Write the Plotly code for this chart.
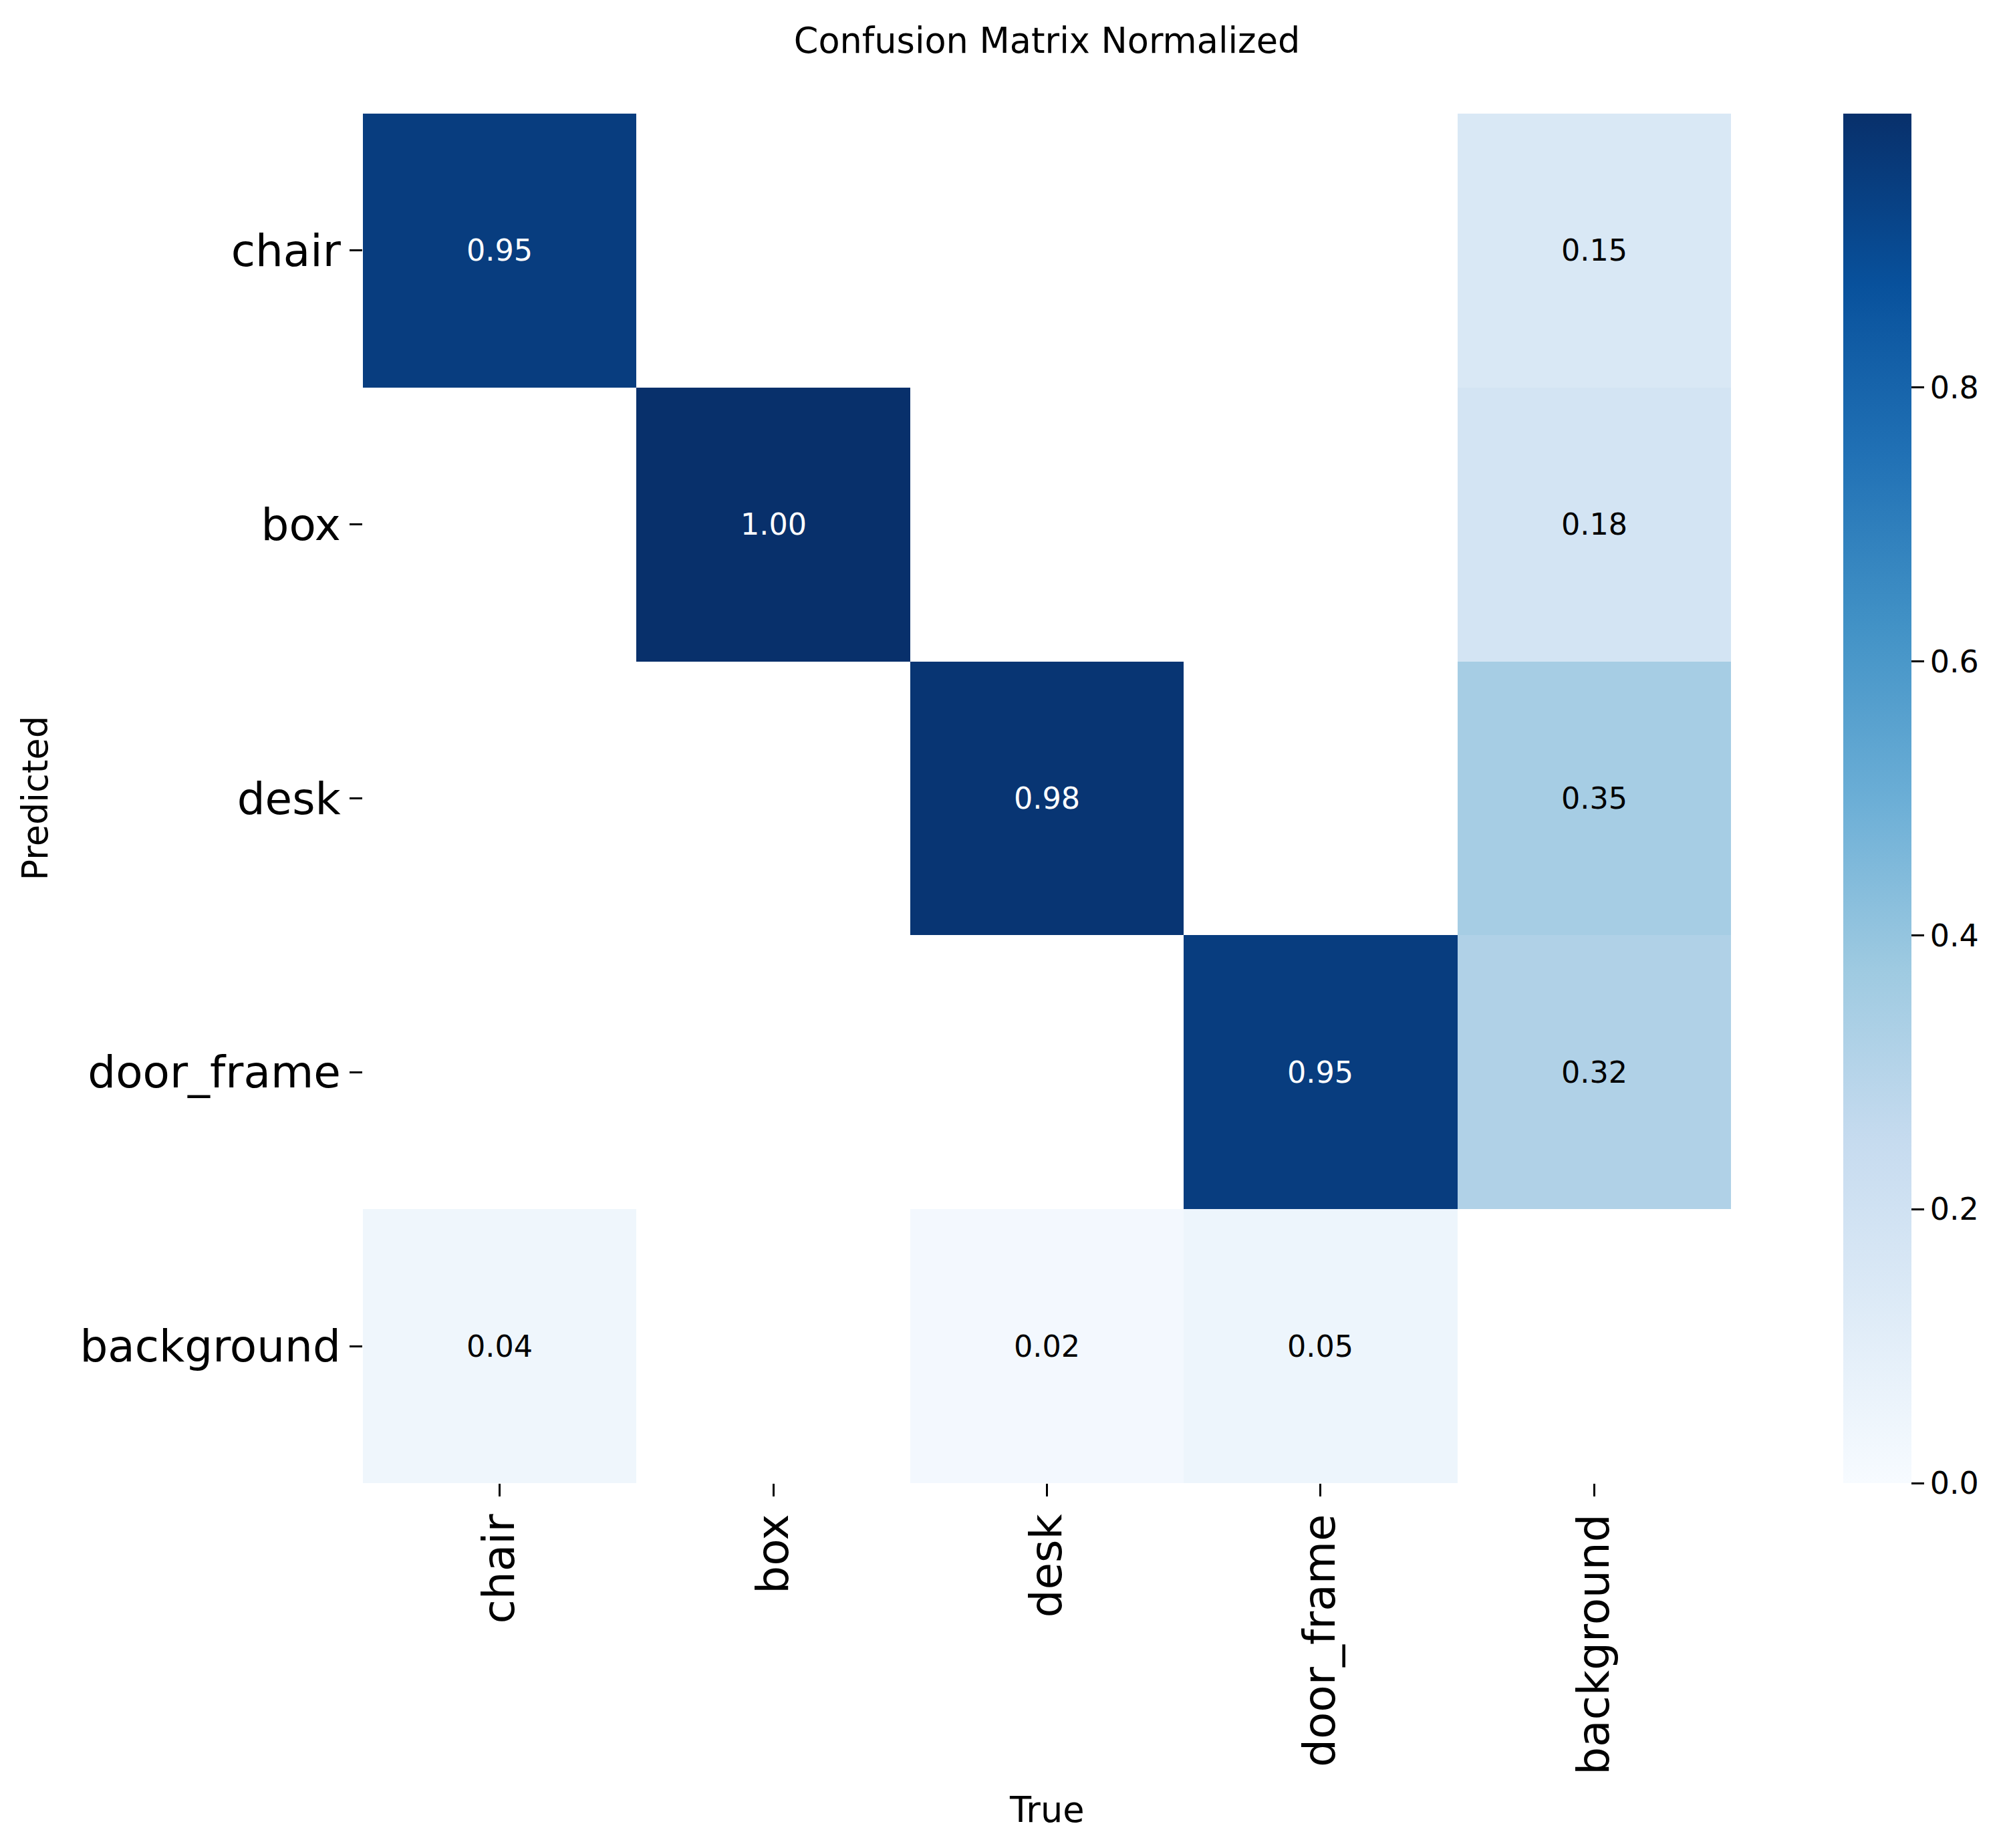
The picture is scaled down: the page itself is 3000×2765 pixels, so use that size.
import plotly.graph_objects as go

# ---- data ----
pred_labels = ["chair", "box", "desk", "door_frame", "background"]
true_labels = ["chair", "box", "desk", "door_frame", "background"]
row_chair = [0.95, None, None, None, 0.15]
row_box = [None, 1.00, None, None, 0.18]
row_desk = [None, None, 0.98, None, 0.35]
row_door_frame = [None, None, None, 0.95, 0.32]
row_background = [0.04, None, 0.02, 0.05, None]
matrix = [row_chair, row_box, row_desk, row_door_frame, row_background]
cbar_ticks = [0.0, 0.2, 0.4, 0.6, 0.8]

blues = [
    [0.0, "#f7fbff"], [0.125, "#deebf7"], [0.25, "#c6dbef"], [0.375, "#9ecae1"],
    [0.5, "#6baed6"], [0.625, "#4292c6"], [0.75, "#2171b5"], [0.875, "#08519c"],
    [1.0, "#08306b"],
]

W, H = 3000, 2765
L, T = 535, 162
PW, PH = 2047, 2049
R = W - L - PW
B = H - T - PH
FONT = "DejaVu Sans"

fig = go.Figure()
fig.add_trace(go.Heatmap(
    z=matrix, x=true_labels, y=pred_labels,
    colorscale=blues, zmin=0, zmax=1.0,
    xgap=0, ygap=0, hoverongaps=False,
    colorbar=dict(
        x=(2750 - L) / PW, xanchor="left", xpad=0,
        y=0.5, yanchor="middle", len=1.0, lenmode="fraction", ypad=0,
        thickness=102, outlinewidth=0,
        tickvals=cbar_ticks, tickformat=".1f",
        ticks="outside", ticklen=19, tickwidth=2.5, tickcolor="black",
        tickfont=dict(family=FONT, size=46, color="black"),
    ),
))

annotations = []
for i, row in enumerate(matrix):
    for j, v in enumerate(row):
        if v is None:
            continue
        annotations.append(dict(
            x=true_labels[j], y=pred_labels[i], xref="x", yref="y",
            text=f"{v:.2f}", showarrow=False,
            font=dict(family=FONT, size=44.5, color="white" if v > 0.5 else "black"),
        ))

annotations.append(dict(
    x=0.5, y=(2219 - 2707) / PH, xref="paper", yref="paper",
    text="True", showarrow=False, xanchor="center", yanchor="middle",
    font=dict(family=FONT, size=52.5, color="black"),
))
annotations.append(dict(
    x=(52 - 543) / PW, y=0.5, xref="paper", yref="paper",
    text="Predicted", showarrow=False, textangle=-90,
    xanchor="center", yanchor="middle",
    font=dict(family=FONT, size=52.5, color="black"),
))

fig.update_layout(
    width=W, height=H,
    margin=dict(l=L, r=R, t=T, b=B, pad=0),
    paper_bgcolor="white", plot_bgcolor="white",
    font=dict(family=FONT, color="black"),
    title=dict(
        text="Confusion Matrix Normalized",
        x=(L + PW / 2) / W, xanchor="center",
        y=1 - 53 / H, yanchor="middle",
        font=dict(family=FONT, size=52.5, color="black"),
    ),
    annotations=annotations,
)
fig.update_xaxes(
    type="category", showgrid=False, zeroline=False, showline=False,
    ticks="outside", ticklen=19, tickwidth=2.5, tickcolor="black",
    tickangle=-90, tickfont=dict(family=FONT, size=66, color="black"),
)
fig.update_yaxes(
    type="category", autorange="reversed", showgrid=False, zeroline=False, showline=False,
    ticks="outside", ticklen=19, tickwidth=2.5, tickcolor="black",
    tickfont=dict(family=FONT, size=66, color="black"),
)

fig.write_html("out.html")
